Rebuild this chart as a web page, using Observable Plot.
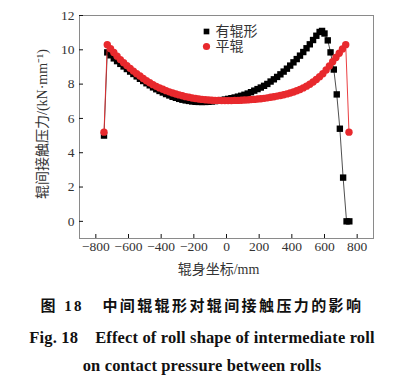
<!DOCTYPE html>
<html><head><meta charset="utf-8">
<script src="https://cdn.jsdelivr.net/npm/d3@7"></script>
<script src="https://cdn.jsdelivr.net/npm/@observablehq/plot@0.6"></script>
<style>
body{margin:0;background:#fff;width:404px;}
svg{overflow:visible;}
.cap{font-weight:bold;text-align:center;white-space:pre;color:#111;}
.c1{font-family:"Liberation Serif","Noto Sans CJK SC";font-size:15px;letter-spacing:2.4px;line-height:20px;margin-top:16px;}
.c2{font-family:"Liberation Serif";font-size:16.5px;letter-spacing:0.15px;line-height:19px;margin-top:12px;}
.c3{font-family:"Liberation Serif";font-size:16.5px;letter-spacing:0.15px;line-height:19px;margin-top:9px;}
</style></head>
<body>
<div id="chart"></div>
<div class="cap c1">图 18   中间辊辊形对辊间接触压力的影响</div>
<div class="cap c2">Fig. 18    Effect of roll shape of intermediate roll</div>
<div class="cap c3">on contact pressure between rolls</div>
<script>
const seriesNames = ["有辊形", "平辊"];
const shapedX = [-750,-730,-710,-690,-670,-650,-630,-610,-590,-570,-550,-530,-510,-490,-470,-450,-430,-410,-390,-370,-350,-330,-310,-290,-270,-250,-230,-210,-190,-170,-150,-130,-110,-90,-70,-50,-30,-10,10,30,50,70,90,110,130,150,170,190,210,230,250,270,290,310,330,350,370,390,410,430,450,470,490,510,530,550,570,585,600,620,637,657,675,694,714,735,752];
const shapedY = [5.0,9.85,9.68,9.50,9.34,9.18,9.03,8.88,8.73,8.59,8.45,8.31,8.18,8.05,7.93,7.81,7.70,7.60,7.51,7.42,7.34,7.26,7.20,7.14,7.09,7.05,7.02,6.99,6.97,6.96,6.96,6.96,6.97,6.99,7.01,7.04,7.07,7.10,7.14,7.18,7.22,7.27,7.32,7.38,7.45,7.53,7.62,7.71,7.80,7.90,8.01,8.15,8.28,8.42,8.57,8.73,8.90,9.08,9.27,9.46,9.66,9.87,10.09,10.32,10.57,10.82,11.04,11.10,10.95,10.55,9.85,8.85,7.40,5.40,2.55,0,0];
const flatX = [-750,-730,-710,-690,-670,-650,-630,-610,-590,-570,-550,-530,-510,-490,-470,-450,-430,-410,-390,-370,-350,-330,-310,-290,-270,-250,-230,-210,-190,-170,-150,-130,-110,-90,-70,-50,-30,-10,10,30,50,70,90,110,130,150,170,190,210,230,250,270,290,310,330,350,370,390,410,430,450,470,490,510,530,550,570,590,610,630,650,670,690,710,730,750];
const flatY = [5.2,10.30,10.06,9.84,9.63,9.43,9.25,9.08,8.92,8.76,8.61,8.47,8.33,8.20,8.08,7.97,7.87,7.78,7.70,7.62,7.55,7.48,7.42,7.37,7.32,7.27,7.23,7.19,7.16,7.13,7.11,7.09,7.07,7.06,7.05,7.05,7.04,7.04,7.04,7.04,7.05,7.05,7.06,7.07,7.08,7.10,7.11,7.13,7.15,7.17,7.20,7.23,7.26,7.30,7.34,7.38,7.43,7.48,7.54,7.61,7.69,7.78,7.88,7.99,8.12,8.27,8.43,8.60,8.82,9.06,9.30,9.55,9.80,10.05,10.30,5.20];
const xTicks = [-800,-600,-400,-200,0,200,400,600,800];
const yTicks = [0,2,4,6,8,10,12];
const xLabel = "辊身坐标/mm";
const yLabel = "辊间接触压力/(kN·mm⁻¹)";

const shaped = shapedX.map((x,i)=>({x, y: shapedY[i]}));
const flat = flatX.map((x,i)=>({x, y: flatY[i]}));
const red = "#e8292d";
const mix = "'Liberation Serif', 'Noto Sans CJK SC', serif";

const chart = Plot.plot({
  width: 404, height: 280,
  marginLeft: 79, marginRight: 31, marginTop: 15, marginBottom: 42,
  x: {domain: [-900, 900]},
  y: {domain: [-1, 12]},
  style: {fontFamily: "'Liberation Serif', serif", fontSize: "13.5px", color: "#333", background: "transparent", overflow: "visible"},
  marks: [
    Plot.frame({stroke: "#8a8a8a", strokeWidth: 1}),
    Plot.axisX({ticks: xTicks, tickSize: -4, tickPadding: 7, line: true, stroke: "#111", label: null, tickFormat: d => d < 0 ? "\u2212" + Math.abs(d) : d}),
    Plot.axisY({ticks: yTicks, tickSize: -4, tickPadding: 9, line: true, stroke: "#111", label: null}),
    Plot.line(shaped, {x: "x", y: "y", stroke: "#222", strokeWidth: 0.8}),
    Plot.dot(shaped, {x: "x", y: "y", symbol: "square", r: 3.6, fill: "#000", stroke: "none"}),
    Plot.line(flat, {x: "x", y: "y", stroke: red, strokeWidth: 0.9}),
    Plot.dot(flat, {x: "x", y: "y", symbol: "circle", r: 3.7, fill: red, stroke: "none"}),
    Plot.dot([seriesNames[0]], {frameAnchor: "top", dx: -20, dy: 16, symbol: "square", r: 3.2, fill: "#000"}),
    Plot.text([seriesNames[0]], {frameAnchor: "top", dx: -11, dy: 16, text: d => d, textAnchor: "start", lineAnchor: "middle", fontFamily: mix, fontSize: 14, fill: "#333"}),
    Plot.dot([seriesNames[1]], {frameAnchor: "top", dx: -20, dy: 31, symbol: "circle", r: 3.6, fill: red}),
    Plot.text([seriesNames[1]], {frameAnchor: "top", dx: -11, dy: 31, text: d => d, textAnchor: "start", lineAnchor: "middle", fontFamily: mix, fontSize: 14, fill: "#333"}),
    Plot.text([xLabel], {frameAnchor: "bottom", dx: -8, dy: 31, text: d => d, textAnchor: "middle", lineAnchor: "middle", fontFamily: mix, fontSize: 14, fill: "#333"}),
    Plot.text([yLabel], {frameAnchor: "left", dx: -37, dy: -3, rotate: -90, text: d => d, textAnchor: "middle", lineAnchor: "middle", fontFamily: mix, fontSize: 14, fill: "#333"})
  ]
});
document.getElementById("chart").appendChild(chart);
</script>
</body></html>
